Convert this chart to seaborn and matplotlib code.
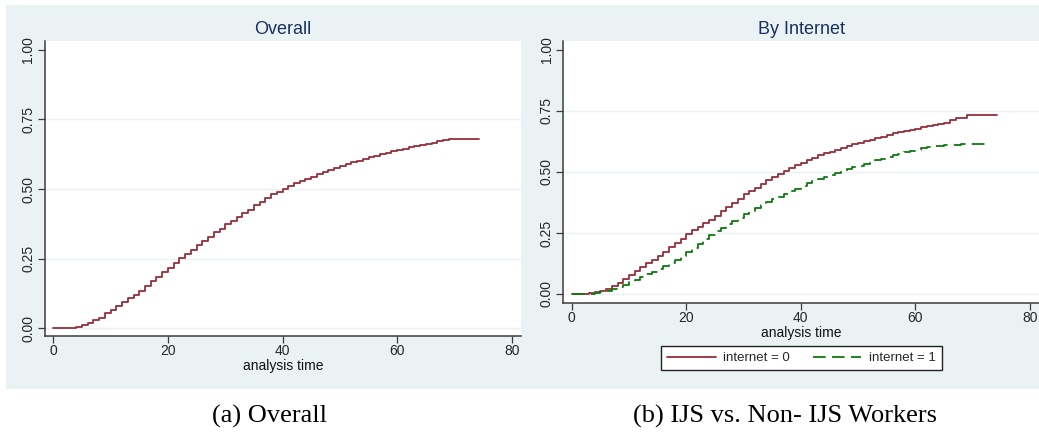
import numpy as np
import pandas as pd
import matplotlib
matplotlib.use("Agg")
import matplotlib.pyplot as plt
import seaborn as sns
from matplotlib.patches import Rectangle
from matplotlib.lines import Line2D

# ---------------- data ----------------
overall_time = [0, 4, 5, 6, 7, 8, 9, 10, 11, 12, 13, 14, 15, 16, 17, 18, 19, 20,
                21, 22, 23, 24, 25, 26, 27, 28, 29, 30, 31, 32, 33, 34, 35, 36, 37,
                38, 39, 40, 41, 42, 43, 44, 45, 46, 47, 48, 49, 50, 51, 52, 53, 54,
                55, 56, 57, 58, 59, 60, 61, 62, 63, 64, 65, 66, 67, 68, 69, 74.3]
overall_fail = [0.0, 0.005, 0.012, 0.020, 0.029, 0.038, 0.053, 0.066, 0.080, 0.095,
                0.107, 0.119, 0.135, 0.152, 0.170, 0.184, 0.201, 0.218, 0.235, 0.251,
                0.265, 0.281, 0.298, 0.315, 0.329, 0.344, 0.358, 0.374, 0.387, 0.399,
                0.413, 0.426, 0.441, 0.454, 0.468, 0.481, 0.491, 0.501, 0.510, 0.520,
                0.528, 0.537, 0.545, 0.554, 0.562, 0.569, 0.576, 0.583, 0.590, 0.596,
                0.602, 0.608, 0.614, 0.620, 0.625, 0.630, 0.635, 0.640, 0.645, 0.650,
                0.655, 0.659, 0.662, 0.667, 0.673, 0.675, 0.679, 0.679]

inet0_time = [0, 3, 4, 5, 6, 7, 8, 9, 10, 11, 12, 13, 14, 15, 16, 17, 18, 19, 20,
              21, 22, 23, 24, 25, 26, 27, 28, 29, 30, 31, 32, 33, 34, 35, 36, 37,
              38, 39, 40, 41, 42, 43, 44, 45, 46, 47, 48, 49, 50, 51, 52, 53, 54,
              55, 56, 57, 58, 59, 60, 61, 62, 63, 64, 65, 66, 67, 69, 74.3]
inet0_fail = [0.0, 0.003, 0.007, 0.014, 0.022, 0.033, 0.044, 0.060, 0.077, 0.094,
              0.112, 0.126, 0.139, 0.156, 0.173, 0.191, 0.209, 0.227, 0.245, 0.262,
              0.276, 0.290, 0.303, 0.321, 0.340, 0.358, 0.374, 0.391, 0.411, 0.423,
              0.436, 0.451, 0.466, 0.480, 0.492, 0.504, 0.516, 0.527, 0.538, 0.549,
              0.559, 0.568, 0.577, 0.583, 0.592, 0.600, 0.607, 0.613, 0.620, 0.626,
              0.633, 0.639, 0.645, 0.652, 0.658, 0.664, 0.669, 0.673, 0.678, 0.683,
              0.689, 0.694, 0.697, 0.702, 0.712, 0.722, 0.732, 0.732]

inet1_time = [0, 4, 5, 6, 7, 8, 9, 10, 11, 12, 13, 14, 15, 16, 17, 18, 19, 20,
              21, 22, 23, 24, 25, 26, 27, 28, 29, 30, 31, 32, 33, 34, 35, 36, 37,
              38, 39, 40, 41, 42, 43, 44, 45, 46, 47, 48, 49, 50, 51, 52, 53, 54,
              55, 56, 57, 58, 59, 60, 61, 62, 63, 65, 68, 72.3]
inet1_fail = [0.0, 0.003, 0.008, 0.014, 0.019, 0.027, 0.037, 0.048, 0.059, 0.070,
              0.081, 0.090, 0.101, 0.113, 0.126, 0.139, 0.154, 0.171, 0.189, 0.206,
              0.224, 0.240, 0.257, 0.272, 0.286, 0.299, 0.313, 0.326, 0.339, 0.351,
              0.363, 0.376, 0.388, 0.399, 0.410, 0.421, 0.432, 0.443, 0.454, 0.463,
              0.471, 0.480, 0.488, 0.496, 0.504, 0.511, 0.519, 0.526, 0.534, 0.541,
              0.548, 0.555, 0.561, 0.568, 0.575, 0.581, 0.586, 0.592, 0.597, 0.602,
              0.607, 0.610, 0.614, 0.614]

group_labels = ["internet = 0", "internet = 1"]
yticks = [0.0, 0.25, 0.5, 0.75, 1.0]
xticks = [0, 20, 40, 60, 80]
titles = ["Overall", "By Internet"]
captions = ["(a) Overall", "(b) IJS vs. Non- IJS Workers"]
xlabel = "analysis time"

# ---------------- styling ----------------
sns.set_theme(style="white")
plt.rcParams["font.family"] = ["Liberation Sans", "DejaVu Sans"]

BG = "#EAF2F3"
RED = "#962D3C"
GREEN = "#0E7A0E"
TITLE = "#1A3060"
AXC = "#3C3C3C"

W, H = 1039, 436
fig = plt.figure(figsize=(W / 100, H / 100), dpi=100)
fig.patch.set_facecolor("white")


def px_rect(x0, y0, x1, y1):
    return [x0 / W, 1 - y1 / H, (x1 - x0) / W, (y1 - y0) / H]


# panel background
r = px_rect(6, 5, 1039, 389)
fig.patches.append(Rectangle((r[0], r[1]), r[2], r[3], transform=fig.transFigure,
                             facecolor=BG, edgecolor="none", zorder=-10))

ax1 = fig.add_axes(px_rect(45, 41, 521, 336))
ax2 = fig.add_axes(px_rect(563.3, 41, 1039, 302.7))
ax1.set_zorder(2)
ax2.set_zorder(2)

df_overall = pd.DataFrame({"time": overall_time, "fail": overall_fail})
df_groups = pd.concat([
    pd.DataFrame({"time": inet0_time, "fail": inet0_fail, "group": group_labels[0]}),
    pd.DataFrame({"time": inet1_time, "fail": inet1_fail, "group": group_labels[1]}),
], ignore_index=True)

sns.lineplot(data=df_overall, x="time", y="fail", drawstyle="steps-post",
             color=RED, lw=1.3, estimator=None, ax=ax1)
sns.lineplot(data=df_groups, x="time", y="fail", hue="group", style="group",
             drawstyle="steps-post", palette=[RED, GREEN],
             dashes=["", (7, 3.5)], lw=1.3, estimator=None, legend=False, ax=ax2)

limits = [((-1.45, 81.6), (-0.028, 1.032)), ((-1.47, 81.57), (-0.036, 1.037))]
for ax, title, (xl, yl) in zip([ax1, ax2], titles, limits):
    ax.set_facecolor("white")
    ax.set_xlim(*xl)
    ax.set_ylim(*yl)
    ax.set_xticks(xticks)
    ax.set_yticks(yticks)
    ax.set_yticklabels([f"{v:.2f}" for v in yticks], rotation=90, va="center")
    ax.set_xticklabels([str(v) for v in xticks])
    ax.tick_params(axis="both", which="major", length=5, width=0.9, color=AXC,
                   labelsize=10, pad=2, direction="out", bottom=True, left=True)
    ax.tick_params(axis="x", pad=1)
    for s in ["top", "right"]:
        ax.spines[s].set_visible(False)
    for s in ["left", "bottom"]:
        ax.spines[s].set_color(AXC)
        ax.spines[s].set_linewidth(1.1)
    ax.yaxis.grid(True, color=BG, lw=1.0)
    ax.set_axisbelow(True)
    fig.canvas.draw()
    ax.yaxis.get_gridlines()[-1].set_visible(False)
    ax.set_xlabel(xlabel, fontsize=10, labelpad=0.5, color="#111111")
    ax.set_ylabel("")
    ax.set_title(title, fontsize=13, color=TITLE, pad=5)

# legend for right panel
handles = [Line2D([], [], color=RED, lw=1.3),
           Line2D([], [], color=GREEN, lw=1.3, dashes=(7, 3.5))]
leg = fig.legend(handles, group_labels, ncol=2, loc="center",
                 bbox_to_anchor=(801.5 / W, 1 - 358.2 / H),
                 fontsize=9.5, frameon=True, fancybox=False, handlelength=3.7,
                 columnspacing=1.7, handletextpad=0.6, borderpad=0.45,
                 edgecolor="#222222", facecolor="white", framealpha=1)
leg.get_frame().set_linewidth(1.0)

# captions
for cx, cap in zip([269, 785], captions):
    fig.text(cx / W, 1 - 416 / H, cap, ha="center", va="center",
             fontsize=19, family=["Liberation Serif", "DejaVu Serif"], color="black")

fig.savefig("out.png", dpi=100, facecolor="white")
